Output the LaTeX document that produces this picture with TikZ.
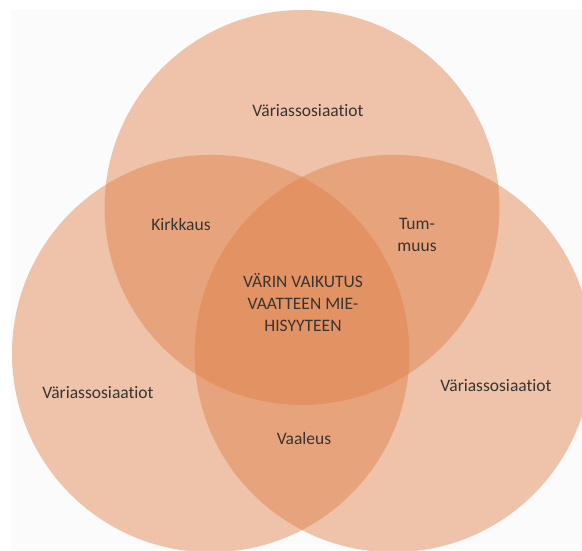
\documentclass[tikz,border=0pt]{standalone}
\usepackage{fontspec}
\setmainfont[Ligatures={NoCommon}]{Carlito}
\definecolor{peach}{RGB}{224,128,70}
\definecolor{txt}{RGB}{56,52,50}
\definecolor{bgpaper}{RGB}{251,251,251}
\begin{document}
\begin{tikzpicture}[x=1pt,y=-1pt,
  venn/.style={fill=peach,fill opacity=0.45},
  lbl/.style={text=txt,font=\fontsize{17.5}{22}\selectfont,align=center,inner sep=0pt}]
\useasboundingbox (0,0) rectangle (582,550);
\fill[white] (0,0) rectangle (582,550);
\fill[bgpaper] (11,10) rectangle (582,550);
\begin{scope}
\clip (0,0) rectangle (582,550);
\fill[venn] (302,207.5) circle (197.5pt);
\fill[venn] (210.7,353.5) circle (198.7pt);
\fill[venn] (393.3,353.5) circle (198.7pt);
\end{scope}
\node[lbl] (top) at (308,111) {Väriassosiaatiot};
\node[lbl] (left) at (98,393) {Väriassosiaatiot};
\node[lbl] (right) at (496,386) {Väriassosiaatiot};
\node[lbl] (kirk) at (181,224) {Kirkkaus};
\node[lbl] (tum) at (417,235) {Tum-\\muus};
\node[lbl] (vaal) at (304,438) {Vaaleus};
\node[lbl] (center) at (303,303) {VÄRIN VAIKUTUS\\VAATTEEN MIE-\\HISYYTEEN};
\end{tikzpicture}
\end{document}
